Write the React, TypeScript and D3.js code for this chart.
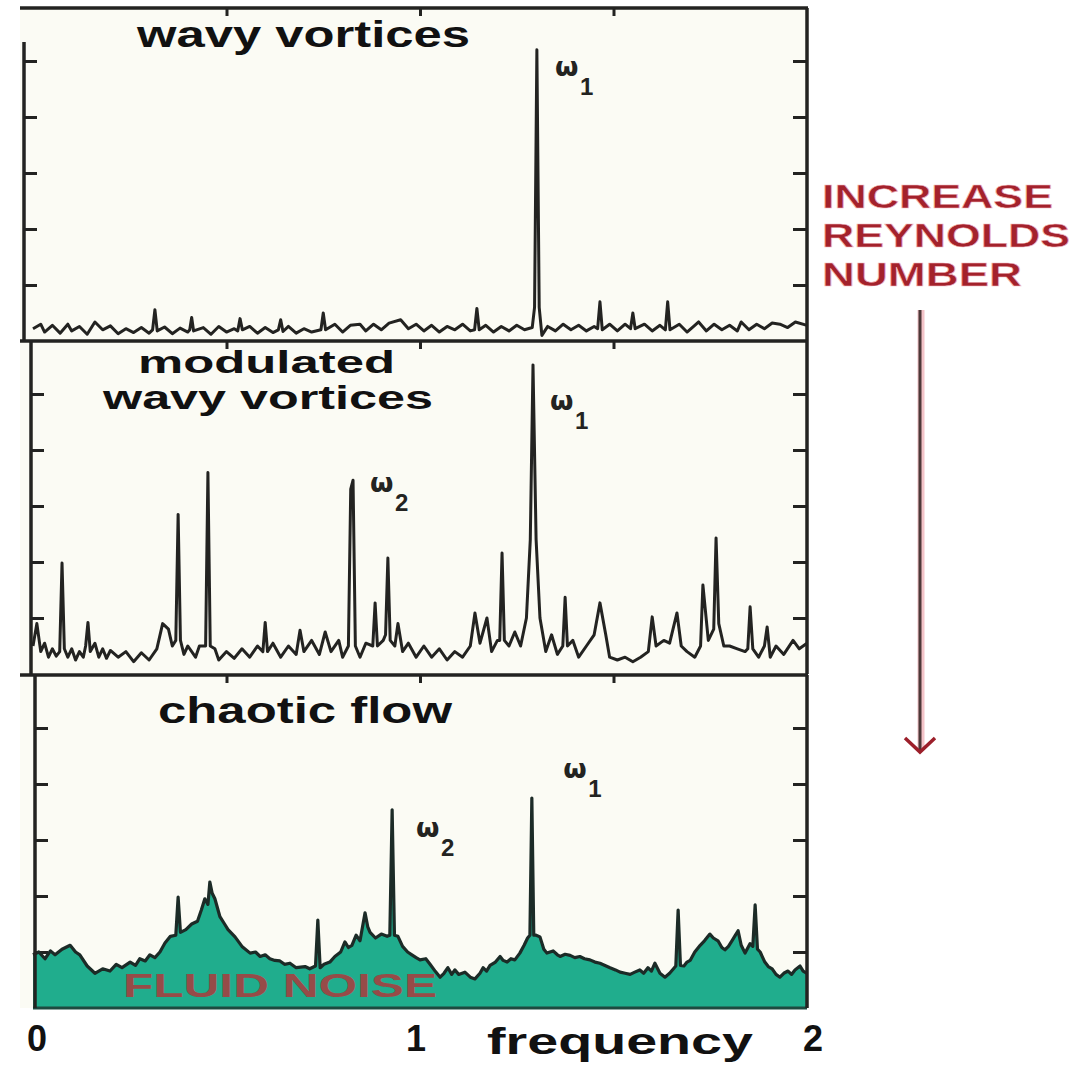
import { useEffect, useRef } from "react";
import * as d3 from "d3";

type Pt = [number, number];

// spectra, [frequency, amplitude]
const wavyVortices: Pt[] = [
  [0.0, 0.22], [0.02, 0.3], [0.03, 0.16], [0.05, 0.28], [0.07, 0.14], [0.09, 0.3], [0.1, 0.18],
  [0.12, 0.26], [0.14, 0.12], [0.16, 0.34], [0.18, 0.2], [0.2, 0.27], [0.22, 0.13], [0.24, 0.22],
  [0.26, 0.15], [0.28, 0.24], [0.3, 0.14], [0.309, 0.2], [0.315, 0.56], [0.321, 0.18], [0.34, 0.25],
  [0.36, 0.13], [0.38, 0.23], [0.4, 0.16], [0.405, 0.2], [0.41, 0.42], [0.415, 0.18], [0.44, 0.24],
  [0.46, 0.12], [0.48, 0.26], [0.5, 0.16], [0.52, 0.22], [0.529, 0.18], [0.535, 0.4], [0.541, 0.2],
  [0.56, 0.26], [0.58, 0.14], [0.6, 0.24], [0.62, 0.15], [0.634, 0.2], [0.64, 0.38], [0.646, 0.17],
  [0.66, 0.26], [0.68, 0.14], [0.7, 0.22], [0.72, 0.16], [0.744, 0.2], [0.75, 0.5], [0.756, 0.2],
  [0.78, 0.3], [0.8, 0.16], [0.82, 0.28], [0.845, 0.3], [0.86, 0.18], [0.88, 0.3], [0.9, 0.2],
  [0.92, 0.32], [0.95, 0.38], [0.97, 0.22], [0.99, 0.3], [1.01, 0.18], [1.03, 0.28], [1.05, 0.16],
  [1.07, 0.26], [1.09, 0.2], [1.11, 0.3], [1.13, 0.18], [1.141, 0.2], [1.147, 0.58], [1.153, 0.2],
  [1.17, 0.28], [1.19, 0.16], [1.21, 0.26], [1.23, 0.18], [1.25, 0.28], [1.27, 0.2], [1.29, 0.24],
  [1.296, 0.6], [1.302, 5.2], [1.308, 0.6], [1.315, 0.1], [1.33, 0.26], [1.35, 0.18], [1.37, 0.3],
  [1.39, 0.2], [1.41, 0.28], [1.43, 0.18], [1.45, 0.26], [1.459, 0.22], [1.465, 0.7], [1.471, 0.2],
  [1.49, 0.3], [1.51, 0.18], [1.53, 0.3], [1.544, 0.22], [1.55, 0.5], [1.556, 0.22], [1.58, 0.3],
  [1.6, 0.18], [1.62, 0.28], [1.634, 0.2], [1.64, 0.7], [1.646, 0.2], [1.67, 0.3], [1.69, 0.16],
  [1.71, 0.28], [1.72, 0.34], [1.74, 0.18], [1.76, 0.3], [1.78, 0.2], [1.8, 0.28], [1.82, 0.18],
  [1.83, 0.34], [1.85, 0.2], [1.87, 0.3], [1.89, 0.22], [1.91, 0.32], [1.93, 0.3], [1.95, 0.24],
  [1.97, 0.34], [2.0, 0.28],
];

const modulatedWavy: Pt[] = [
  [0.0, 0.5], [0.01, 0.9], [0.02, 0.4], [0.03, 0.55], [0.04, 0.3], [0.05, 0.45], [0.06, 0.32],
  [0.069, 0.4], [0.075, 1.98], [0.081, 0.45], [0.09, 0.3], [0.1, 0.45], [0.11, 0.25], [0.12, 0.4],
  [0.13, 0.3], [0.136, 0.5], [0.142, 0.92], [0.148, 0.4], [0.16, 0.55], [0.17, 0.3], [0.18, 0.45],
  [0.19, 0.28], [0.2, 0.42], [0.22, 0.3], [0.24, 0.4], [0.26, 0.22], [0.28, 0.38], [0.3, 0.25],
  [0.32, 0.45], [0.335, 0.9], [0.35, 0.8], [0.36, 0.5], [0.369, 0.6], [0.375, 2.85], [0.381, 0.6],
  [0.39, 0.35], [0.4, 0.5], [0.42, 0.3], [0.43, 0.5], [0.446, 0.5], [0.452, 3.6], [0.458, 0.5],
  [0.47, 0.45], [0.48, 0.25], [0.5, 0.4], [0.52, 0.28], [0.54, 0.45], [0.56, 0.3], [0.58, 0.5],
  [0.594, 0.4], [0.6, 0.92], [0.606, 0.4], [0.62, 0.55], [0.64, 0.3], [0.66, 0.5], [0.68, 0.35],
  [0.69, 0.78], [0.7, 0.4], [0.72, 0.6], [0.74, 0.35], [0.755, 0.75], [0.77, 0.4], [0.79, 0.6],
  [0.8, 0.3], [0.815, 0.5], [0.821, 3.3], [0.827, 3.46], [0.833, 0.5], [0.845, 0.3], [0.86, 0.55],
  [0.878, 0.5], [0.884, 1.27], [0.89, 0.5], [0.905, 0.6], [0.911, 0.7], [0.917, 2.07], [0.923, 0.6],
  [0.935, 0.5], [0.943, 0.9], [0.955, 0.4], [0.97, 0.55], [0.99, 0.3], [1.01, 0.5], [1.03, 0.3],
  [1.05, 0.45], [1.07, 0.25], [1.09, 0.4], [1.11, 0.3], [1.13, 0.5], [1.142, 1.09], [1.155, 0.55],
  [1.173, 1.0], [1.185, 0.4], [1.2, 0.6], [1.206, 0.6], [1.212, 2.16], [1.218, 0.6], [1.23, 0.5],
  [1.245, 0.75], [1.26, 0.5], [1.275, 1.0], [1.285, 2.4], [1.292, 5.52], [1.3, 2.4], [1.31, 1.0],
  [1.325, 0.4], [1.34, 0.7], [1.355, 0.35], [1.369, 0.5], [1.375, 1.37], [1.381, 0.5], [1.395, 0.6],
  [1.41, 0.3], [1.43, 0.5], [1.45, 0.7], [1.465, 1.27], [1.48, 0.7], [1.49, 0.3], [1.51, 0.25],
  [1.53, 0.3], [1.55, 0.22], [1.57, 0.3], [1.59, 0.4], [1.6, 1.02], [1.61, 0.5], [1.63, 0.6],
  [1.645, 0.55], [1.664, 1.09], [1.675, 0.5], [1.69, 0.4], [1.71, 0.3], [1.725, 0.5], [1.731, 1.59],
  [1.745, 0.6], [1.759, 0.8], [1.765, 2.43], [1.772, 0.9], [1.785, 0.5], [1.8, 0.5], [1.82, 0.45],
  [1.84, 0.4], [1.847, 0.45], [1.853, 1.2], [1.86, 0.45], [1.875, 0.3], [1.89, 0.5], [1.897, 0.84],
  [1.905, 0.3], [1.92, 0.5], [1.94, 0.35], [1.964, 0.6], [1.98, 0.45], [2.0, 0.55],
];

const chaoticFlow: Pt[] = [
  [0.0, 0.95], [0.015, 1.0], [0.031, 0.88], [0.045, 1.02], [0.057, 0.95], [0.075, 1.05], [0.096, 1.12],
  [0.11, 1.0], [0.121, 0.95], [0.14, 0.75], [0.16, 0.62], [0.18, 0.7], [0.199, 0.66], [0.215, 0.78],
  [0.23, 0.72], [0.251, 0.82], [0.265, 0.76], [0.276, 0.88], [0.29, 0.84], [0.302, 0.95], [0.315, 0.9],
  [0.328, 1.0], [0.341, 1.16], [0.355, 1.28], [0.369, 1.3], [0.375, 1.98], [0.381, 1.35], [0.395, 1.4],
  [0.41, 1.5], [0.425, 1.55], [0.435, 1.75], [0.444, 1.95], [0.452, 1.85], [0.457, 2.25], [0.463, 2.05],
  [0.47, 1.95], [0.483, 1.63], [0.495, 1.5], [0.504, 1.4], [0.522, 1.27], [0.54, 1.1], [0.561, 0.98],
  [0.575, 1.0], [0.587, 0.92], [0.6, 0.95], [0.612, 0.88], [0.625, 0.85], [0.638, 0.84], [0.65, 0.78],
  [0.664, 0.8], [0.68, 0.72], [0.703, 0.74], [0.715, 0.7], [0.73, 0.75], [0.736, 1.57], [0.742, 0.72],
  [0.752, 0.78], [0.767, 0.82], [0.78, 0.92], [0.795, 1.0], [0.806, 1.18], [0.815, 1.08], [0.824, 1.12],
  [0.835, 1.3], [0.845, 1.2], [0.858, 1.7], [0.865, 1.45], [0.871, 1.35], [0.885, 1.25], [0.9, 1.32],
  [0.915, 1.28], [0.922, 1.3], [0.928, 3.54], [0.934, 1.3], [0.943, 1.28], [0.955, 1.1], [0.968, 1.0],
  [0.979, 0.95], [0.99, 0.9], [1.0, 0.86], [1.015, 0.88], [1.026, 0.78], [1.04, 0.65], [1.052, 0.55],
  [1.062, 0.62], [1.072, 0.72], [1.082, 0.6], [1.09, 0.68], [1.1, 0.6], [1.116, 0.64], [1.13, 0.55],
  [1.142, 0.52], [1.155, 0.62], [1.163, 0.72], [1.172, 0.66], [1.181, 0.76], [1.195, 0.82], [1.207, 0.92],
  [1.215, 0.85], [1.225, 0.82], [1.235, 0.88], [1.245, 0.86], [1.258, 0.98], [1.269, 1.12], [1.278, 1.25],
  [1.284, 1.3], [1.289, 3.75], [1.294, 1.3], [1.3, 1.3], [1.31, 1.27], [1.32, 1.05], [1.328, 0.98],
  [1.344, 1.02], [1.355, 0.95], [1.362, 0.92], [1.375, 0.96], [1.388, 0.94], [1.4, 0.9], [1.413, 0.92],
  [1.425, 0.88], [1.439, 0.86], [1.452, 0.82], [1.465, 0.8], [1.478, 0.76], [1.491, 0.72], [1.505, 0.68],
  [1.517, 0.64], [1.53, 0.62], [1.543, 0.6], [1.555, 0.64], [1.568, 0.68], [1.578, 0.62], [1.589, 0.72],
  [1.598, 0.66], [1.607, 0.8], [1.62, 0.62], [1.633, 0.55], [1.645, 0.62], [1.655, 0.7], [1.661, 0.75],
  [1.667, 1.75], [1.673, 0.76], [1.682, 0.75], [1.69, 0.82], [1.698, 0.85], [1.71, 1.0], [1.724, 1.12],
  [1.735, 1.2], [1.749, 1.32], [1.758, 1.25], [1.77, 1.2], [1.78, 1.08], [1.788, 1.04], [1.797, 1.1],
  [1.806, 1.2], [1.815, 1.3], [1.822, 1.38], [1.83, 1.12], [1.84, 0.98], [1.853, 1.15], [1.86, 1.1],
  [1.866, 1.84], [1.872, 1.05], [1.879, 1.0], [1.891, 0.82], [1.9, 0.74], [1.91, 0.7], [1.92, 0.6],
  [1.93, 0.55], [1.94, 0.62], [1.951, 0.66], [1.96, 0.6], [1.969, 0.68], [1.982, 0.75], [1.99, 0.66],
  [2.0, 0.62],
];

const panelTitles = [["wavy vortices"], ["modulated", "wavy vortices"], ["chaotic flow"]];
// omega labels: [frequency, amplitude, subscript]
const omegaLabels: [number, number, string][][] = [
  [[1.354, 4.73, "1"]],
  [[1.341, 4.71, "1"], [0.876, 3.25, "2"]],
  [[1.375, 4.11, "1"], [0.995, 3.05, "2"]],
];
const freqLabels = ["0", "1", "2"];
const freqTicks = [0.5, 1, 1.5];
const ampTicks = [1, 2, 3, 4, 5];
const arrowLines = ["INCREASE", "REYNOLDS", "NUMBER"];

const W = 1074;
const H = 1073;
const plotLeft = 33;
const plotRight = 807;
const panelTop = [8, 341, 675];
const panelH = 333;
const axisLeftX = [24, 31, 35];
const titleLayout = [
  [{ x: 137, w: 333, y: 47, s: 36 }],
  [{ x: 138, w: 257, y: 373, s: 31 }, { x: 103, w: 330, y: 409, s: 34 }],
  [{ x: 158, w: 294, y: 723, s: 36 }],
];
const ink = "#232321";
const red = "#a3222c";
const font = "'Liberation Sans', Arial, sans-serif";

export default function App() {
  const svgRef = useRef<SVGSVGElement | null>(null);

  useEffect(() => {
    if (!svgRef.current) return;
    const svg = d3.select(svgRef.current);
    svg.selectAll("*").remove();

    svg.append("rect").attr("width", W).attr("height", H).attr("fill", "#ffffff");
    svg
      .append("rect")
      .attr("x", 20)
      .attr("y", 8)
      .attr("width", plotRight - 20)
      .attr("height", panelTop[2] + panelH - 8)
      .attr("fill", "#fbfbf4");

    const x = d3.scaleLinear().domain([0, 2]).range([plotLeft, plotRight]);
    const series = [wavyVortices, modulatedWavy, chaoticFlow];

    series.forEach((data, i) => {
      const top = panelTop[i];
      const bottom = top + panelH;
      const y = d3.scaleLinear().domain([0, panelH / 56]).range([bottom, top]);
      const g = svg.append("g");

      // inward ticks
      g.append("g")
        .attr("transform", `translate(${axisLeftX[i]},0)`)
        .call(d3.axisLeft(y).tickValues(ampTicks).tickSize(-13).tickSizeOuter(0).tickFormat(() => ""))
        .call((a) => a.select(".domain").remove())
        .call((a) => a.selectAll("line").attr("stroke", ink).attr("stroke-width", 3));
      g.append("g")
        .attr("transform", `translate(${plotRight},0)`)
        .call(d3.axisRight(y).tickValues(ampTicks).tickSize(-14).tickSizeOuter(0).tickFormat(() => ""))
        .call((a) => a.select(".domain").remove())
        .call((a) => a.selectAll("line").attr("stroke", ink).attr("stroke-width", 3));
      g.append("g")
        .attr("transform", `translate(0,${top})`)
        .call(d3.axisTop(x).tickValues(freqTicks).tickSize(-8).tickSizeOuter(0).tickFormat(() => ""))
        .call((a) => a.select(".domain").remove())
        .call((a) => a.selectAll("line").attr("stroke", ink).attr("stroke-width", 3));

      const line = d3
        .line<Pt>()
        .x((d) => x(d[0]))
        .y((d) => y(d[1]));

      if (i === 2) {
        const area = d3
          .area<Pt>()
          .x((d) => x(d[0]))
          .y0(bottom)
          .y1((d) => y(d[1]));
        g.append("path").attr("d", area(data)).attr("fill", "#20ad8d");
        g.append("text")
          .attr("x", 123)
          .attr("y", 997)
          .attr("textLength", 314)
          .attr("lengthAdjust", "spacingAndGlyphs")
          .attr("font-family", font)
          .attr("font-weight", 700)
          .attr("font-size", 34)
          .attr("fill", "#c4262e")
          .attr("opacity", 0.72)
          .text("FLUID NOISE");
        g.append("path")
          .attr("d", line(data))
          .attr("fill", "none")
          .attr("stroke", "#1c2b27")
          .attr("stroke-width", 3.2)
          .attr("stroke-linejoin", "round");
        g.append("line")
          .attr("x1", plotLeft)
          .attr("x2", plotRight)
          .attr("y1", bottom)
          .attr("y2", bottom)
          .attr("stroke", "#1d4a40")
          .attr("stroke-width", 3);
      } else {
        g.append("path")
          .attr("d", line(data))
          .attr("fill", "none")
          .attr("stroke", ink)
          .attr("stroke-width", 3)
          .attr("stroke-linejoin", "round");
      }

      // frame
      g.append("line")
        .attr("x1", 20)
        .attr("x2", plotRight + 1)
        .attr("y1", top)
        .attr("y2", top)
        .attr("stroke", ink)
        .attr("stroke-width", 3.5);
      g.append("line")
        .attr("x1", axisLeftX[i])
        .attr("x2", axisLeftX[i])
        .attr("y1", i === 0 ? 42 : top)
        .attr("y2", bottom)
        .attr("stroke", ink)
        .attr("stroke-width", 3.5);
      g.append("line")
        .attr("x1", plotRight)
        .attr("x2", plotRight)
        .attr("y1", top)
        .attr("y2", bottom)
        .attr("stroke", ink)
        .attr("stroke-width", 3.5);

      // titles
      panelTitles[i].forEach((t, k) => {
        const l = titleLayout[i][k];
        g.append("text")
          .attr("x", l.x)
          .attr("y", l.y)
          .attr("textLength", l.w)
          .attr("lengthAdjust", "spacingAndGlyphs")
          .attr("font-family", font)
          .attr("font-weight", 700)
          .attr("font-size", l.s)
          .attr("fill", "#111")
          .text(t);
      });

      // omega labels
      omegaLabels[i].forEach(([f, v, sub]) => {
        g.append("text")
          .attr("x", x(f) - 2)
          .attr("y", y(v))
          .attr("font-family", "'DejaVu Sans', sans-serif")
          .attr("font-weight", 700)
          .attr("font-size", 27)
          .attr("fill", ink)
          .text("ω");
        g.append("text")
          .attr("x", x(f) + 23)
          .attr("y", y(v) + 19)
          .attr("font-family", font)
          .attr("font-weight", 700)
          .attr("font-size", 24)
          .attr("fill", ink)
          .text(sub);
      });
    });

    // frequency axis labels
    svg
      .append("g")
      .selectAll("text")
      .data(freqLabels)
      .join("text")
      .attr("x", (d) => x(Number(d)) + (d === "0" ? 4 : d === "1" ? -4 : 6))
      .attr("y", 1051)
      .attr("text-anchor", "middle")
      .attr("font-family", font)
      .attr("font-weight", 700)
      .attr("font-size", 36)
      .attr("fill", "#111")
      .text((d) => d);
    svg
      .append("text")
      .attr("x", 487)
      .attr("y", 1054)
      .attr("textLength", 266)
      .attr("lengthAdjust", "spacingAndGlyphs")
      .attr("font-family", font)
      .attr("font-weight", 700)
      .attr("font-size", 37)
      .attr("fill", "#111")
      .text("frequency");

    // Reynolds annotation
    const widths = [231, 248, 200];
    arrowLines.forEach((t, k) => {
      svg
        .append("text")
        .attr("x", 822)
        .attr("y", 208 + k * 39)
        .attr("textLength", widths[k])
        .attr("lengthAdjust", "spacingAndGlyphs")
        .attr("font-family", font)
        .attr("font-weight", 700)
        .attr("font-size", 33)
        .attr("fill", red)
        .attr("stroke", "#f2b9bf")
        .attr("stroke-width", 0.6)
        .text(t);
    });
    svg
      .append("line")
      .attr("x1", 921)
      .attr("x2", 921)
      .attr("y1", 310)
      .attr("y2", 750)
      .attr("stroke", "#f3c3c8")
      .attr("stroke-width", 7);
    svg
      .append("line")
      .attr("x1", 920)
      .attr("x2", 920)
      .attr("y1", 310)
      .attr("y2", 750)
      .attr("stroke", "#4d3838")
      .attr("stroke-width", 3);
    svg
      .append("path")
      .attr("d", "M905,738 L920,752 L935,738")
      .attr("fill", "none")
      .attr("stroke", "#9c1f2a")
      .attr("stroke-width", 3.5);
  }, []);

  return (
    <svg
      ref={svgRef}
      width={W}
      height={H}
      style={{ position: "absolute", left: 0, top: 0, display: "block" }}
    />
  );
}
